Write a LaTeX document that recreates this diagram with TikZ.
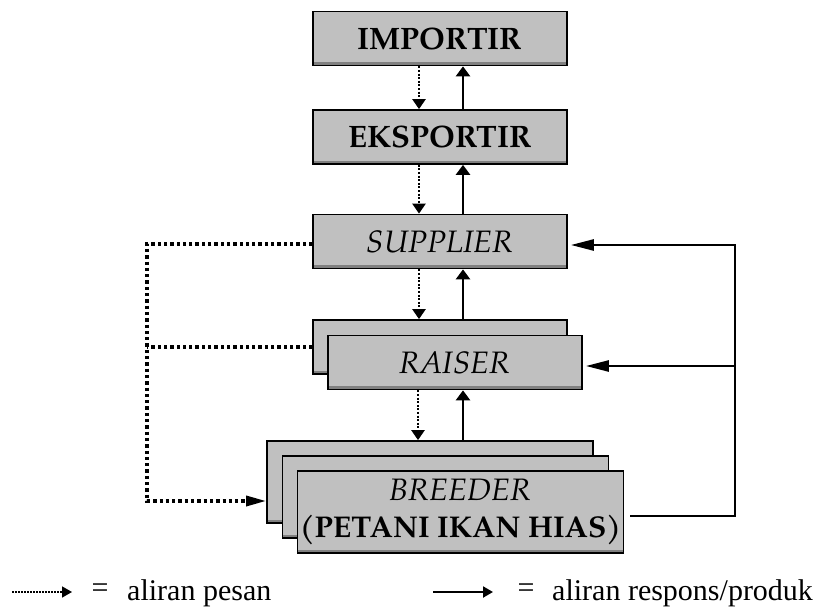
\documentclass[tikz,border=0pt]{standalone}
\usepackage{fontspec}
\setmainfont{Liberation Serif}
\newfontfamily\boxfont{TeX Gyre Pagella}
\usetikzlibrary{arrows.meta}
\definecolor{boxgray}{RGB}{192,192,192}
\definecolor{edgegray}{RGB}{128,128,128}

\begin{document}
\begin{tikzpicture}[x=1pt,y=-1pt,
  box/.style={draw,line width=1.7pt,fill=boxgray,inner sep=0pt,minimum width=254pt,minimum height=54pt,
    align=center,font=\boxfont\fontsize{31}{39}\selectfont,
    path picture={\draw[edgegray,line width=2.4pt] ([yshift=1.9pt]path picture bounding box.south west) -- ([yshift=1.9pt]path picture bounding box.south east);}},
  widebox/.style={box,minimum width=326pt,minimum height=82pt},
  msg/.style={line width=2.3pt,dash pattern=on 2pt off 1.6pt,-{Triangle[length=10pt,width=13pt]}},
  resp/.style={line width=2.5pt,-{Triangle[length=10pt,width=14pt]}},
  resplong/.style={line width=2.5pt,-{Triangle[length=23pt,width=11pt]}},
  bigdot/.style={line width=3.3pt,dash pattern=on 3.3pt off 3pt},
  legend/.style={font=\fontsize{30}{36}\selectfont,inner sep=0pt}]
\useasboundingbox (0,0) rectangle (817,607);

\node[box] (imp) at (440,38.5) {\textbf{IMPORTIR}};
\node[box] (eks) at (440,137) {\textbf{EKSPORTIR}};
\node[box] (sup) at (440,241.5) {\textit{SUPPLIER}};
\node[box] (raiB) at (440,347) {};
\node[box] (raiF) at (455,362.5) {\textit{RAISER}};
\node[widebox] (breB) at (430,482) {};
\node[widebox] (breM) at (445.5,497) {};
\node[widebox] (breF) at (460.5,512) {\textit{BREEDER}\\[-2pt]{\fontsize{30}{39}\selectfont\textbf{(PETANI IKAN HIAS)}}};

\draw[msg] ([xshift=-21pt]imp.south) -- ([xshift=-21pt]eks.north);
\draw[resp] ([xshift=23pt]eks.north) -- ([xshift=23pt]imp.south);
\draw[msg] ([xshift=-21pt]eks.south) -- ([xshift=-21pt]sup.north);
\draw[resp] ([xshift=23pt]sup.north) -- ([xshift=23pt]eks.south);
\draw[msg] ([xshift=-21pt]sup.south) -- ([xshift=-21pt]raiB.north);
\draw[resp] ([xshift=23pt]raiB.north) -- ([xshift=23pt]sup.south);
\draw[msg] ([xshift=-37pt]raiF.south) -- ([xshift=-12pt]breB.north);
\draw[resp] ([xshift=33pt]breB.north) -- ([xshift=8pt]raiF.south);

\coordinate (lft) at (147,244);
\draw[bigdot,-{Triangle[length=20pt,width=10pt]}] ([yshift=-2.5pt]sup.west) -| ([yshift=-19pt]lft |- breB.west) -- ([yshift=-19pt]breB.west);
\draw[bigdot] (raiB.west) -- (raiB.west -| lft);

\coordinate (rgt) at (735,516);
\draw[resplong] ([xshift=6pt,yshift=-4pt]breF.east) -- (rgt) -- ([yshift=-3.5pt]rgt |- sup.east) -- ([xshift=3pt,yshift=-3.5pt]sup.east);
\draw[resplong] ([yshift=-3.5pt]rgt |- raiF.east) -- ([xshift=3pt,yshift=-3.5pt]raiF.east);

\coordinate (m1) at (12,592);
\coordinate (m2) at (72,592);
\draw[msg,line width=1.6pt,dash pattern=on 1.6pt off 1.4pt,-{Triangle[length=10pt,width=11pt]}] (m1) -- (m2);
\node[legend] (eq1) at (100,591) {=};
\node[legend,anchor=base west] (t1) at (127,600) {aliran pesan};
\coordinate (r1) at (433,592);
\coordinate (r2) at (493,592);
\draw[resp,line width=2pt,-{Triangle[length=10pt,width=11pt]}] (r1) -- (r2);
\node[legend] (eq2) at (526,591) {=};
\node[legend,anchor=base west] (t2) at (552,600) {aliran respons/produk};
\end{tikzpicture}
\end{document}
